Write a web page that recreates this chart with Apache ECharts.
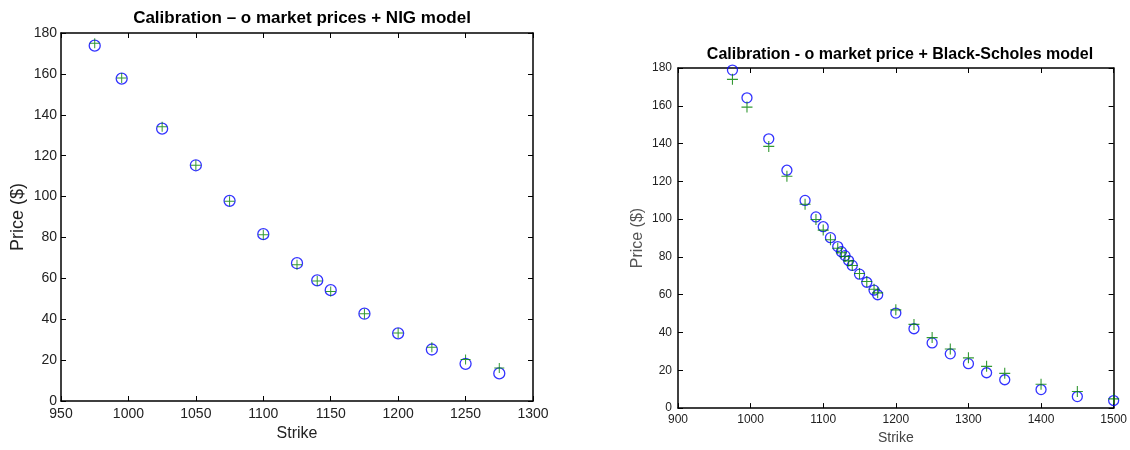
<!DOCTYPE html>
<html>
<head>
<meta charset="utf-8">
<script src="https://cdn.jsdelivr.net/npm/echarts@6/dist/echarts.min.js"></script>
<style>
  html, body { margin: 0; padding: 0; background: #fff; }
  #chart { width: 1130px; height: 450px; }
</style>
</head>
<body>
<div id="chart"></div>
<script>
// left panel: NIG model
const nigStrikes = [975, 995, 1025, 1050, 1075, 1100, 1125, 1140, 1150, 1175, 1200, 1225, 1250, 1275];
const nigMarket = [173.8, 157.7, 133.2, 115.3, 97.9, 81.6, 67.4, 59.0, 54.2, 42.7, 33.1, 25.2, 18.2, 13.5];
const nigModel = [175.0, 158.0, 134.2, 115.3, 97.7, 81.3, 66.6, 58.7, 53.6, 42.7, 33.2, 26.3, 20.3, 16.1];

// right panel: Black-Scholes model
const bsStrikes = [975, 995, 1025, 1050, 1075, 1090, 1100, 1110, 1120, 1125, 1130, 1135, 1140, 1150, 1160, 1170, 1175,
  1200, 1225, 1250, 1275, 1300, 1325, 1350, 1400, 1450, 1500];
const bsMarket = [178.9, 164.2, 142.5, 125.9, 109.9, 101.2, 96.0, 90.2, 85.5, 82.8, 80.7, 78.1, 75.5, 70.9, 66.6, 62.4, 60.0,
  50.3, 42.0, 34.5, 28.7, 23.5, 18.7, 15.0, 9.8, 6.1, 4.0];
const bsModel = [174.0, 159.3, 138.5, 122.7, 107.9, 99.8, 94.2, 89.1, 84.6, 82.2, 80.2, 77.9, 75.5, 71.2, 67.0, 62.9, 61.0,
  52.0, 44.3, 37.3, 31.3, 26.6, 22.1, 18.4, 12.6, 8.8, 4.9];

const leftXTicks = { min: 950, max: 1300, interval: 50 };
const rightXTicks = { min: 900, max: 1500, interval: 100 };
const yTicks = { min: 0, max: 180, interval: 20 };

const zip = (xs, ys) => xs.map((x, i) => [x, ys[i]]);
const plusPath = 'path://M4.5,0H5.5V4.5H10V5.5H5.5V10H4.5V5.5H0V4.5H4.5Z';

const chart = echarts.init(document.getElementById('chart'));

function xAxisFor(grid, ticks, fontSize, gap, nameGap, nameColor, pos) {
  const main = pos === 'bottom';
  return {
    type: 'value', gridIndex: grid, position: pos,
    min: ticks.min, max: ticks.max, interval: ticks.interval,
    name: main ? 'Strike' : '', nameLocation: 'middle', nameGap: nameGap,
    nameTextStyle: { fontFamily: 'Liberation Sans', fontSize: fontSize + 2, color: nameColor },
    axisLine: { show: true, onZero: false, lineStyle: { color: '#000', width: 1.5 } },
    axisTick: { show: true, inside: true, length: 5, lineStyle: { color: '#000' } },
    axisLabel: { show: main, margin: gap, fontFamily: 'Liberation Sans', fontSize: fontSize, color: '#222',
      showMinLabel: true, showMaxLabel: true, formatter: v => String(v) },
    splitLine: { show: false }
  };
}
function yAxisFor(grid, fontSize, gap, nameGap, nameColor, pos) {
  const main = pos === 'left';
  return {
    type: 'value', gridIndex: grid, position: pos,
    min: yTicks.min, max: yTicks.max, interval: yTicks.interval,
    name: main ? 'Price ($)' : '', nameLocation: 'middle', nameGap: nameGap,
    nameTextStyle: { fontFamily: 'Liberation Sans', fontSize: fontSize + 4, color: nameColor },
    axisLine: { show: true, onZero: false, lineStyle: { color: '#000', width: 1.5 } },
    axisTick: { show: true, inside: true, length: 5, lineStyle: { color: '#000' } },
    axisLabel: { show: main, margin: gap, fontFamily: 'Liberation Sans', fontSize: fontSize, color: '#222',
      showMinLabel: true, showMaxLabel: true, formatter: v => String(v) },
    splitLine: { show: false }
  };
}

const circle = (xi, yi, data, size) => ({
  type: 'scatter', xAxisIndex: xi, yAxisIndex: yi, data: data,
  symbol: 'circle', symbolSize: size,
  itemStyle: { color: 'rgba(0,0,0,0)', borderColor: '#0000ff', borderWidth: 1.3 },
  z: 3
});
const plus = (xi, yi, data, size) => ({
  type: 'scatter', xAxisIndex: xi, yAxisIndex: yi, data: data,
  symbol: plusPath, symbolSize: size,
  itemStyle: { color: '#008000' },
  z: 4
});

const option = {
  animation: false,
  title: [
    { text: 'Calibration – o market prices + NIG model', left: 297, top: 5, textAlign: 'center',
      textStyle: { fontFamily: 'Liberation Sans', fontSize: 17, fontWeight: 'bold', color: '#000' } },
    { text: 'Calibration - o market price + Black-Scholes model', left: 895, top: 42, textAlign: 'center',
      textStyle: { fontFamily: 'Liberation Sans', fontSize: 16, fontWeight: 'bold', color: '#000' } }
  ],
  grid: [
    { left: 61, top: 33, width: 472, height: 368 },
    { left: 678, top: 68, width: 437, height: 343 }
  ],
  xAxis: [
    xAxisFor(0, leftXTicks, 14, 6, 23, '#222', 'bottom'),
    xAxisFor(0, leftXTicks, 14, 6, 23, '#222', 'top'),
    xAxisFor(1, rightXTicks, 12, 6, 21, '#444', 'bottom'),
    xAxisFor(1, rightXTicks, 12, 6, 21, '#444', 'top')
  ],
  yAxis: [
    yAxisFor(0, 14, 4, 34, '#222', 'left'),
    yAxisFor(0, 14, 4, 34, '#222', 'right'),
    yAxisFor(1, 12, 6, 32, '#555', 'left'),
    yAxisFor(1, 12, 6, 32, '#555', 'right')
  ],
  series: [
    circle(0, 0, zip(nigStrikes, nigMarket), 11),
    plus(0, 0, zip(nigStrikes, nigModel), 10),
    circle(2, 2, zip(bsStrikes, bsMarket), 10),
    plus(2, 2, zip(bsStrikes, bsModel), 11)
  ]
};

chart.setOption(option);
</script>
</body>
</html>
